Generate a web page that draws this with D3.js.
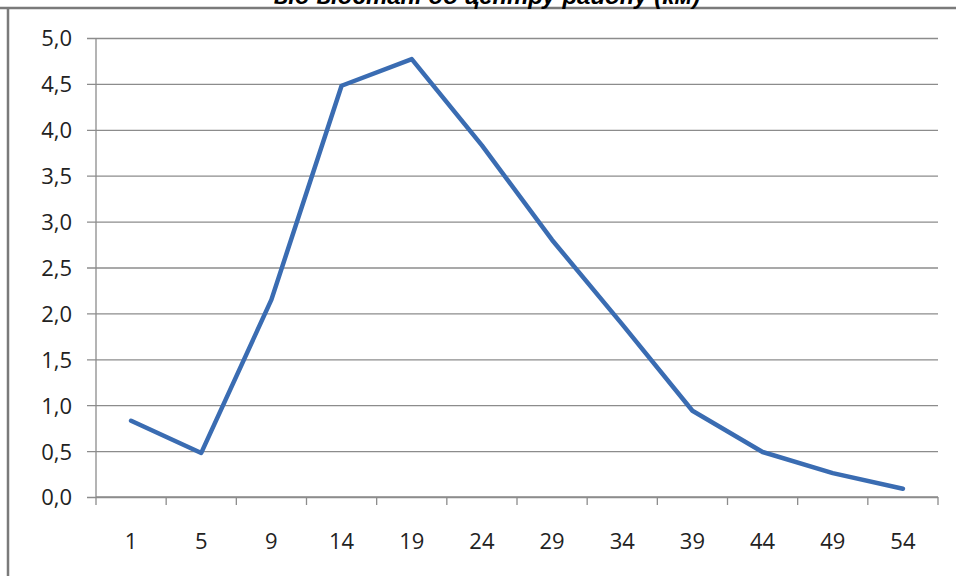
<!DOCTYPE html>
<html>
<head>
<meta charset="utf-8">
<script src="https://cdn.jsdelivr.net/npm/d3@7"></script>
<style>
  html, body { margin: 0; padding: 0; background: #fff; }
  svg { display: block; }
</style>
</head>
<body>
<svg id="chart" width="956" height="576"></svg>
<script>
// Distance from district centre (km) and the share at each distance
const distances = ["1", "5", "9", "14", "19", "24", "29", "34", "39", "44", "49", "54"];
const shares = [0.83, 0.48, 2.15, 4.48, 4.77, 3.83, 2.80, 1.88, 0.94, 0.49, 0.26, 0.09];
const yTicks = [0, 0.5, 1, 1.5, 2, 2.5, 3, 3.5, 4, 4.5, 5];
const titleText = "від відстані до центру району (км)";

const svg = d3.select("#chart");
const W = 956, H = 576;
const plot = { left: 96, right: 938, top: 38, bottom: 497 };
const labelFont = "'Open Sans', 'Noto Sans', sans-serif";
const labelSize = 22;

// Chart frame (top and left edges visible)
svg.append("line").attr("x1", 0).attr("x2", W).attr("y1", 8).attr("y2", 8)
  .attr("stroke", "#7a7a7a").attr("stroke-width", 2.5);
svg.append("line").attr("x1", 8).attr("x2", 8).attr("y1", 8).attr("y2", H)
  .attr("stroke", "#7a7a7a").attr("stroke-width", 2.5);

// Title
svg.append("text")
  .attr("x", 487).attr("y", 4)
  .attr("text-anchor", "middle")
  .attr("font-family", "'Liberation Sans', Arial, sans-serif")
  .attr("font-weight", "bold").attr("font-style", "italic")
  .attr("font-size", 24).attr("fill", "#000")
  .text(titleText);

const x = d3.scaleBand().domain(distances).range([plot.left, plot.right]);
const y = d3.scaleLinear().domain([0, 5]).range([plot.bottom, plot.top]);

// Gridlines + y axis
const yAxis = d3.axisLeft(y).tickValues(yTicks)
  .tickFormat(d => d3.format(".1f")(d).replace(".", ","))
  .tickSize(-(plot.right - plot.left));
const gy = svg.append("g").attr("transform", `translate(${plot.left},0)`).call(yAxis);
gy.attr("font-size", null).attr("font-family", null);
gy.select(".domain").remove();
gy.selectAll(".tick line").attr("stroke", "#8c8c8c").attr("stroke-width", 1.3)
  .attr("x1", -9);
gy.selectAll(".tick text")
  .attr("x", -24).attr("dy", "0.36em")
  .attr("font-family", labelFont).attr("font-size", labelSize).attr("fill", "#222");
gy.append("line").attr("x1", 0).attr("x2", 0).attr("y1", plot.top).attr("y2", plot.bottom)
  .attr("stroke", "#8c8c8c").attr("stroke-width", 1.3);

// X axis with ticks at category boundaries
const gx = svg.append("g").attr("transform", `translate(0,${plot.bottom})`);
gx.append("line").attr("x1", plot.left).attr("x2", plot.right)
  .attr("stroke", "#8c8c8c").attr("stroke-width", 1.3);
const bounds = distances.map(d => x(d)).concat([plot.right]);
gx.selectAll("line.tk").data(bounds).join("line").attr("class", "tk")
  .attr("x1", d => d).attr("x2", d => d).attr("y1", 0).attr("y2", 8)
  .attr("stroke", "#8c8c8c").attr("stroke-width", 1.3);
gx.selectAll("text").data(distances).join("text")
  .attr("x", d => x(d) + x.bandwidth() / 2).attr("y", 52)
  .attr("text-anchor", "middle")
  .attr("font-family", labelFont)
  .attr("font-size", labelSize).attr("fill", "#222")
  .text(d => d);

// Data line
const line = d3.line()
  .x((d, i) => x(distances[i]) + x.bandwidth() / 2)
  .y(d => y(d));
svg.append("path").datum(shares)
  .attr("d", line).attr("fill", "none")
  .attr("stroke", "#3a6cb2").attr("stroke-width", 4.5)
  .attr("stroke-linejoin", "round").attr("stroke-linecap", "round");
</script>
</body>
</html>
